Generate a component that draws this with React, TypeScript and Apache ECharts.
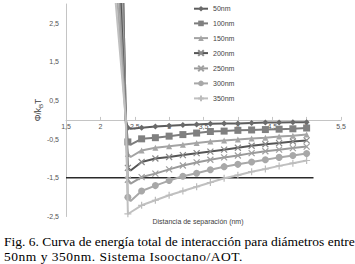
import React, { useEffect, useRef } from "react";
import * as echarts from "echarts";

const seriesNames = ["50nm", "100nm", "150nm", "200nm", "250nm", "300nm", "350nm"];
const markerX = [2.4, 2.6, 2.8, 3.0, 3.2, 3.4, 3.6, 3.8, 4.0, 4.2, 4.4, 4.6, 4.8, 5.0];
const wallTopX = [2.33, 2.33, 2.31, 2.29, 2.27, 2.24, 2.21];
const wallTopY = 3.3;
const zeroX = 2.37;
const troughX = 2.44;
const troughY = [-0.23, -0.64, -0.96, -1.31, -1.65, -2.1, -2.39];
const y50 = [-0.2, -0.2, -0.17, -0.15, -0.13, -0.12, -0.1, -0.09, -0.09, -0.08, -0.07, -0.07, -0.06, -0.06];
const y100 = [-0.57, -0.49, -0.46, -0.42, -0.38, -0.34, -0.3, -0.29, -0.27, -0.26, -0.25, -0.24, -0.23, -0.21];
const y150 = [-0.88, -0.79, -0.72, -0.68, -0.64, -0.6, -0.56, -0.53, -0.51, -0.48, -0.46, -0.43, -0.41, -0.38];
const y200 = [-1.24, -1.09, -1.0, -0.96, -0.91, -0.86, -0.82, -0.77, -0.72, -0.67, -0.63, -0.6, -0.56, -0.53];
const y250 = [-1.55, -1.48, -1.39, -1.28, -1.18, -1.1, -1.03, -0.97, -0.92, -0.86, -0.81, -0.77, -0.73, -0.69];
const y300 = [-2.0, -1.84, -1.7, -1.57, -1.46, -1.38, -1.29, -1.21, -1.15, -1.09, -1.03, -0.97, -0.92, -0.87];
const y350 = [-2.43, -2.21, -2.08, -1.95, -1.84, -1.73, -1.62, -1.51, -1.43, -1.34, -1.27, -1.19, -1.12, -1.05];
const allY = [y50, y100, y150, y200, y250, y300, y350];
const refLineX = [1.5, 5.1];
const refLineY = -1.5;

const xAxisTitle = "Distancia de separación (nm)";
const captionLine1 = "Fig. 6. Curva de energía total de interacción para diámetros entre";
const captionLine2 = "50nm y 350nm. Sistema Isooctano/AOT.";

const FONT = "'Liberation Sans', Arial, sans-serif";

const lineColors = ["#5c5c5c", "#7c7c7c", "#a3a3a3", "#555555", "#9a9a9a", "#a8a8a8", "#c0c0c0"];
const markColors = ["#6a6a6a", "#808080", "#a6a6a6", "#8a8a8a", "#a0a0a0", "#a8a8a8", "#bcbcbc"];
const symbols = [
  "diamond",
  "rect",
  "triangle",
  "path://M0,0L10,10M10,0L0,10",
  "path://M0,0L10,10M10,0L0,10",
  "circle",
  "path://M5,0L5,10M0,5L10,5",
];
const symbolSizes = [6, 7, 6, 6, 6, 7, 7];
const strokeOnly = [false, false, false, true, true, false, true];

// grid geometry: y=0 sits 97 px above the bottom edge of the plot
const GRID_TOP = 4;
const GRID_BOTTOM = 47.5;

function fmt(v: number) {
  return String(v).replace(".", ",");
}

export default function App() {
  const ref = useRef<HTMLDivElement>(null);
  useEffect(() => {
    if (!ref.current) return;
    const chart = echarts.init(ref.current, undefined, { renderer: "svg" });
    const series: any[] = seriesNames.map((name, i) => {
      const ys = allY[i];
      const data: any[] = [
        { value: [wallTopX[i], wallTopY], symbol: "none" },
        { value: [zeroX, 0], symbol: "none" },
        { value: [markerX[0], ys[0]] },
        { value: [troughX, troughY[i]], symbol: "none" },
      ];
      for (let k = 1; k < markerX.length; k++) data.push({ value: [markerX[k], ys[k]] });
      return {
        name,
        type: "line",
        data,
        symbol: symbols[i],
        symbolSize: symbolSizes[i],
        showAllSymbol: true,
        smooth: false,
        clip: true,
        lineStyle: { color: lineColors[i], width: 2 },
        itemStyle: strokeOnly[i]
          ? { color: markColors[i], borderColor: markColors[i], borderWidth: 1.2 }
          : { color: markColors[i], borderWidth: 0 },
        z: 3 + i,
      };
    });
    series.push({
      name: "ref",
      type: "line",
      data: refLineX.map((x) => [x, refLineY]),
      symbol: "none",
      silent: true,
      lineStyle: { color: "#2a2a2a", width: 1.5 },
      z: 2,
    });

    const plotH = 264 - GRID_TOP - GRID_BOTTOM;
    const yMin = -2.5;
    const yMax = 3;
    const zeroFromBottom = (plotH * (0 - yMin)) / (yMax - yMin);

    chart.setOption({
      animation: false,
      textStyle: { fontFamily: FONT },
      grid: { left: 66, right: 14, top: GRID_TOP, bottom: GRID_BOTTOM },
      legend: {
        data: seriesNames,
        orient: "vertical",
        left: 193,
        top: 5.2,
        padding: 0,
        itemWidth: 14,
        itemHeight: 7,
        itemGap: 7.7,
        textStyle: { fontSize: 7, color: "#444", fontFamily: FONT, lineHeight: 7 },
      },
      xAxis: {
        type: "value",
        min: 1.5,
        max: 5.5,
        interval: 0.5,
        offset: -zeroFromBottom,
        splitLine: { show: false },
        axisLine: { onZero: false, lineStyle: { color: "#c4c4c4", width: 1 } },
        axisTick: { show: true, inside: true, length: 3, lineStyle: { color: "#c4c4c4" } },
        axisLabel: { fontSize: 7, color: "#555", margin: 3, formatter: (v: number) => fmt(v) },
      },
      yAxis: {
        type: "value",
        min: yMin,
        max: yMax,
        interval: 0.5,
        splitLine: { show: false },
        axisLine: { show: true, onZero: false, lineStyle: { color: "#c4c4c4", width: 1 } },
        axisTick: { show: false },
        axisLabel: {
          fontSize: 7,
          color: "#555",
          margin: 7,
          formatter: (v: number) => (Math.abs(Math.round(v * 2)) % 2 === 1 ? fmt(v) : ""),
        },
      },
      graphic: [
        {
          type: "text",
          x: 38,
          y: 110,
          rotation: Math.PI / 2,
          style: {
            text: "{a|Φ/k}{b|B}{a|T}",
            rich: {
              a: { fontSize: 8.5, fill: "#404040", fontFamily: FONT },
              b: { fontSize: 6, fill: "#404040", fontFamily: FONT, padding: [5, 0, 0, 0] },
            },
            align: "center",
            verticalAlign: "middle",
          },
        },
        {
          type: "text",
          x: 198,
          y: 221,
          style: {
            text: xAxisTitle,
            fontSize: 7,
            fill: "#404040",
            fontFamily: FONT,
            align: "center",
            verticalAlign: "middle",
          },
        },
      ],
      series,
    });
    return () => chart.dispose();
  }, []);

  return (
    <div style={{ position: "absolute", left: 0, top: 0, width: 355, height: 264, background: "#fff" }}>
      <div ref={ref} style={{ position: "absolute", left: 0, top: 0, width: 355, height: 264 }} />
      <div
        style={{
          position: "absolute",
          left: 4,
          top: 234,
          width: 347,
          fontFamily: "'Liberation Serif', 'Times New Roman', serif",
          fontSize: 13.5,
          lineHeight: "15px",
          color: "#000",
        }}
      >
        <div style={{ textAlign: "justify", textAlignLast: "justify", whiteSpace: "nowrap" }}>{captionLine1}</div>
        <div style={{ letterSpacing: 0.5, whiteSpace: "nowrap" }}>{captionLine2}</div>
      </div>
    </div>
  );
}
